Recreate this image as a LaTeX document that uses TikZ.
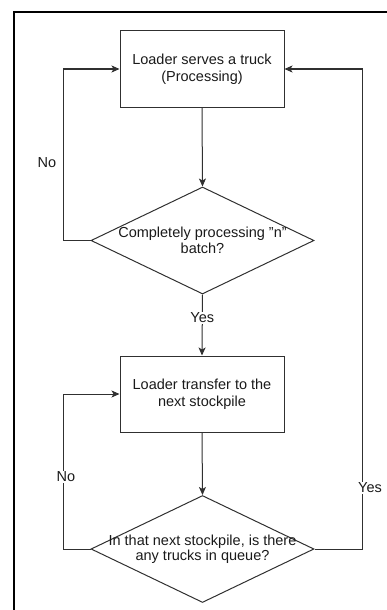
\documentclass[tikz,border=0pt]{standalone}
\usepackage{fontspec}
\setmainfont{Liberation Sans}
\usetikzlibrary{shapes.geometric,arrows.meta}
\definecolor{ink}{HTML}{303030}
\definecolor{txt}{HTML}{1A1A1A}
\begin{document}
\begin{tikzpicture}[x=1pt,y=-1pt,
  every node/.style={font=\fontsize{14.5}{17}\selectfont, text=txt},
  procbox/.style={draw=ink, line width=1pt, minimum width=164pt, minimum height=76pt, inner sep=0pt, align=center},
  decision/.style={draw=ink, line width=1pt, diamond, minimum width=223pt, minimum height=107pt, inner sep=0pt},
  flow/.style={draw=ink, line width=1pt, -{Stealth[length=8pt,width=7pt,inset=2pt]}},
  edgelabel/.style={fill=white, inner sep=1pt}]
  % page extent
  \useasboundingbox (0,0) rectangle (387,610);
  % frame edges
  \draw[line width=2.2pt, black] (14,610) -- (14,12) -- (387,12);

  % steps
  \node[procbox] (serve) at (202,69) {Loader serves a truck\\(Processing)};
  \node[decision, label={[align=center, font=\fontsize{14.5}{16.5}\selectfont, text=txt]center:Completely processing "n"\\batch?}] (batch) at (202.5,240.5) {};
  \node[procbox] (transfer) at (202,394) {Loader transfer to the\\next stockpile};
  \node[decision, label={[align=center, font=\fontsize{14.5}{14.5}\selectfont, text=txt]center:In that next stockpile, is there\\any trucks in queue?}] (queue) at (202.5,549) {};

  % connectors
  \draw[flow] (serve.south) -- (batch.north);
  \draw[flow] (batch.south) -- node[edgelabel, pos=0.38] {Yes} (transfer.north);
  \draw[flow] (transfer.south) -- (queue.north);
  \draw[flow] (batch.west) -- ++(-27,0) |- (serve.west);
  \draw[flow] (queue.west) -- ++(-27,0) |- (transfer.west);
  \draw[flow] (queue.east) -- ++(48,0) coordinate (yesturn) |- (serve.east);

  % branch labels
  \node (noA) at (47,163) {No};
  \node[edgelabel] (noB) at (66,477) {No};
  \node[edgelabel] (yesB) at (370,488) {Yes};
\end{tikzpicture}
\end{document}
